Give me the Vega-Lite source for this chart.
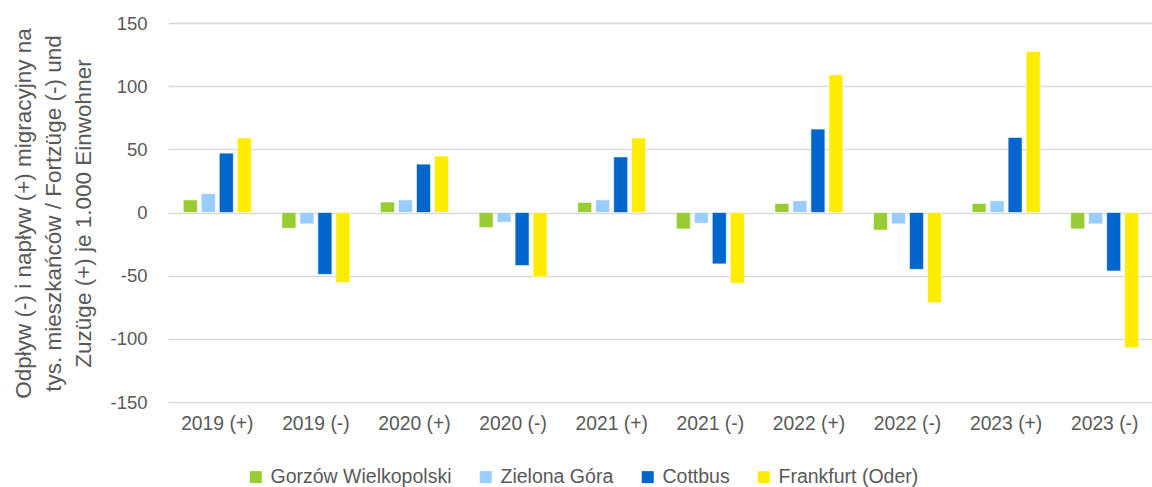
{
  "$schema": "https://vega.github.io/schema/vega-lite/v6.json",
  "autosize": {"type": "none"},
  "width": 986,
  "height": 379,
  "padding": {"left": 168, "top": 23, "right": 0, "bottom": 85},
  "background": "white",
  "config": {
    "font": "'Liberation Sans', Arial, sans-serif",
    "view": {"stroke": null},
    "axis": {"labelColor": "#595959", "titleColor": "#595959"}
  },
  "data": {
    "values": [
      {"cat": "2019 (+)", "city": "Gorzów Wielkopolski", "value": 10},
      {"cat": "2019 (+)", "city": "Zielona Góra", "value": 15},
      {"cat": "2019 (+)", "city": "Cottbus", "value": 47},
      {"cat": "2019 (+)", "city": "Frankfurt (Oder)", "value": 59},
      {"cat": "2019 (-)", "city": "Gorzów Wielkopolski", "value": -12.5},
      {"cat": "2019 (-)", "city": "Zielona Góra", "value": -9},
      {"cat": "2019 (-)", "city": "Cottbus", "value": -49},
      {"cat": "2019 (-)", "city": "Frankfurt (Oder)", "value": -55.5},
      {"cat": "2020 (+)", "city": "Gorzów Wielkopolski", "value": 8.3},
      {"cat": "2020 (+)", "city": "Zielona Góra", "value": 10},
      {"cat": "2020 (+)", "city": "Cottbus", "value": 38.3},
      {"cat": "2020 (+)", "city": "Frankfurt (Oder)", "value": 44.7},
      {"cat": "2020 (-)", "city": "Gorzów Wielkopolski", "value": -12},
      {"cat": "2020 (-)", "city": "Zielona Góra", "value": -7.7},
      {"cat": "2020 (-)", "city": "Cottbus", "value": -42},
      {"cat": "2020 (-)", "city": "Frankfurt (Oder)", "value": -51},
      {"cat": "2021 (+)", "city": "Gorzów Wielkopolski", "value": 8},
      {"cat": "2021 (+)", "city": "Zielona Góra", "value": 10},
      {"cat": "2021 (+)", "city": "Cottbus", "value": 44},
      {"cat": "2021 (+)", "city": "Frankfurt (Oder)", "value": 59},
      {"cat": "2021 (-)", "city": "Gorzów Wielkopolski", "value": -13},
      {"cat": "2021 (-)", "city": "Zielona Góra", "value": -8.5},
      {"cat": "2021 (-)", "city": "Cottbus", "value": -40.7},
      {"cat": "2021 (-)", "city": "Frankfurt (Oder)", "value": -56},
      {"cat": "2022 (+)", "city": "Gorzów Wielkopolski", "value": 7.2},
      {"cat": "2022 (+)", "city": "Zielona Góra", "value": 9.3},
      {"cat": "2022 (+)", "city": "Cottbus", "value": 66},
      {"cat": "2022 (+)", "city": "Frankfurt (Oder)", "value": 109},
      {"cat": "2022 (-)", "city": "Gorzów Wielkopolski", "value": -14},
      {"cat": "2022 (-)", "city": "Zielona Góra", "value": -9},
      {"cat": "2022 (-)", "city": "Cottbus", "value": -45},
      {"cat": "2022 (-)", "city": "Frankfurt (Oder)", "value": -71.5},
      {"cat": "2023 (+)", "city": "Gorzów Wielkopolski", "value": 7.2},
      {"cat": "2023 (+)", "city": "Zielona Góra", "value": 9.3},
      {"cat": "2023 (+)", "city": "Cottbus", "value": 59.4},
      {"cat": "2023 (+)", "city": "Frankfurt (Oder)", "value": 127.5},
      {"cat": "2023 (-)", "city": "Gorzów Wielkopolski", "value": -13},
      {"cat": "2023 (-)", "city": "Zielona Góra", "value": -9},
      {"cat": "2023 (-)", "city": "Cottbus", "value": -46.3},
      {"cat": "2023 (-)", "city": "Frankfurt (Oder)", "value": -107}
    ]
  },
  "mark": {"type": "bar", "stroke": "#ffffff", "strokeWidth": 1, "strokeOpacity": 0.6},
  "encoding": {
    "x": {
      "field": "cat", "type": "nominal", "sort": null,
      "scale": {"paddingInner": 0.31, "paddingOuter": 0.155},
      "axis": {"title": null, "labelAngle": 0, "labelFontSize": 19.3, "labelPadding": 12, "ticks": false, "domain": false, "grid": false}
    },
    "xOffset": {
      "field": "city", "type": "nominal",
      "sort": ["Gorzów Wielkopolski", "Zielona Góra", "Cottbus", "Frankfurt (Oder)"],
      "scale": {"paddingInner": 0.22, "paddingOuter": 0}
    },
    "y": {
      "field": "value", "type": "quantitative",
      "scale": {"domain": [-150, 150], "nice": false, "zero": true},
      "axis": {
        "values": [-150, -100, -50, 0, 50, 100, 150],
        "labelExpr": "'' + datum.value",
        "title": ["Odpływ (-) i napływ (+) migracyjny  na", "tys. mieszkańców / Fortzüge (-) und", "Zuzüge (+) je 1.000 Einwohner"],
        "titleFontSize": 22.5, "titleFontWeight": "normal", "titleLineHeight": 30,
        "titleAngle": -90, "titleX": -145, "titleY": 190, "titleAlign": "center", "titleBaseline": "middle",
        "labelFontSize": 18.5, "labelPadding": 21, "ticks": false, "tickSize": 0, "domain": false,
        "grid": true, "gridColor": "#D9D9D9", "gridWidth": 1.5
      }
    },
    "color": {
      "field": "city", "type": "nominal",
      "scale": {
        "domain": ["Gorzów Wielkopolski", "Zielona Góra", "Cottbus", "Frankfurt (Oder)"],
        "range": ["#99CC33", "#99CCFF", "#0066CC", "#FFED00"]
      },
      "legend": {
        "title": null, "orient": "none", "direction": "horizontal", "columns": 4,
        "legendX": 78, "legendY": 444,
        "symbolType": "square", "symbolSize": 144, "symbolStrokeWidth": 0,
        "labelFontSize": 19.5, "labelColor": "#595959", "labelOffset": 5, "columnPadding": 24,
        "labelLimit": 400
      }
    }
  }
}
